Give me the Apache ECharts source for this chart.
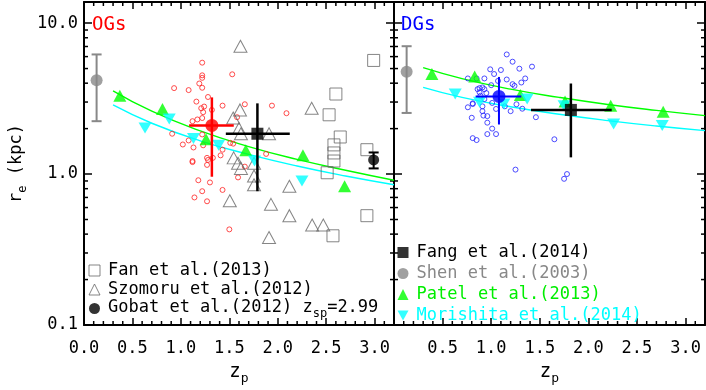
<!DOCTYPE html>
<html><head><meta charset="utf-8">
<script src="https://cdn.jsdelivr.net/npm/echarts@6/dist/echarts.min.js"></script>
<style>html,body{margin:0;padding:0;background:#fff}#c{width:706px;height:390px}</style>
</head><body><div id="c"></div>
<script>
// ---------- axis ticks ----------
const xTickLabels = ['0.0','0.5','1.0','1.5','2.0','2.5','3.0'];
const yTickLabels = ['0.1','1.0','10.0'];
const xMinorTickValues = [0.1,0.2,0.3,0.4,0.6,0.7,0.8,0.9,1.1,1.2,1.3,1.4,1.6,1.7,1.8,1.9,2.1,2.2,2.3,2.4,2.6,2.7,2.8,2.9,3.1];
const yMinorTickValues = [0.2,0.3,0.4,0.5,0.6,0.7,0.8,0.9,2,3,4,5,6,7,8,9];

// ---------- OGs panel ----------
const ogSampleZ = [1.22,1.22,1.22,1.53,0.93,1.08,1.19,1.22,1.16,1.28,1.21,1.24,1.23,1.43,1.66,1.94,2.09,1.12,1.17,1.22,1.58,0.91,1.22,1.02,1.13,1.43,1.41,1.51,1.54,1.27,1.28,1.12,1.12,1.27,1.88,1.18,1.30,1.59,1.43,1.22,1.14,1.08,1.23,1.33,1.27,1.50,1.32,1.66];
const ogSampleR = [5.47,4.51,4.34,4.58,3.71,3.60,3.98,3.73,3.02,3.24,2.73,2.80,2.57,2.84,2.90,2.84,2.53,2.24,2.30,2.35,2.38,1.85,1.83,1.57,1.50,1.45,1.33,1.61,1.59,1.28,1.24,1.22,1.20,1.15,1.36,0.91,0.88,0.95,0.785,0.77,0.70,1.67,1.55,1.28,0.66,0.43,2.66,1.12];
const fanZ = [2.99,2.60,2.53,2.645,2.58,2.58,2.58,2.51,2.92,2.92,2.57];
const fanR = [5.66,3.39,2.47,1.76,1.56,1.38,1.22,1.02,1.45,0.53,0.39];
const szomoruZ = [1.615,1.61,1.54,1.60,1.62,1.91,2.35,1.545,1.59,1.62,1.755,1.755,1.755,2.12,1.505,1.93,2.12,2.355,2.47,1.91];
const szomoruR = [7.03,2.66,2.35,2.0,1.85,1.85,2.73,1.28,1.18,1.09,1.18,0.97,0.85,0.83,0.665,0.63,0.53,0.46,0.46,0.38];
const patelOGZ = [0.37,0.81,1.26,1.67,2.26,2.69];
const patelOGR = [3.30,2.70,1.70,1.44,1.33,0.83];
const morishitaOGZ = [0.63,0.88,1.13,1.39,1.76,2.25];
const morishitaOGR = [2.02,2.32,1.72,1.55,1.22,0.90];
const fitZ = [0.3,0.7,1.2,1.7,2.2,2.7,3.2];
const patelFitOG = [3.56,2.61,1.93,1.52,1.25,1.06,0.91];
const morishitaFitOG = [2.87,2.17,1.66,1.35,1.13,0.97,0.85];
const ogMedian = [1.32,2.10];
const ogMedianZRange = [1.085,1.546];
const ogMedianRRange = [0.96,3.22];
const fangOG = [1.79,1.85];
const fangOGZRange = [1.464,2.124];
const fangOGRRange = [0.77,2.94];
const gobat = [2.99,1.24];
const gobatRRange = [1.09,1.39];
const shenOG = [0.13,4.19];
const shenOGRRange = [2.24,6.2];

// ---------- DGs panel ----------
const dgSampleZ = [1.16,1.22,1.29,1.42,0.99,1.10,1.03,0.76,0.85,0.93,1.16,1.22,1.35,1.31,0.88,0.91,0.86,0.93,1.00,1.07,0.88,0.95,0.89,0.81,0.76,0.91,1.05,1.14,1.26,1.32,1.20,0.91,0.96,0.80,0.92,0.96,1.01,0.96,1.05,0.81,0.85,1.46,1.65,1.25,1.75,1.78,1.01,0.93,1.24,0.81];
const dgSampleR = [6.20,5.55,4.99,5.15,4.94,4.89,4.60,4.30,4.30,4.30,4.23,3.94,4.30,4.04,3.71,3.75,3.65,3.65,3.88,4.14,3.48,3.44,3.30,2.91,2.77,2.81,2.70,2.81,2.90,2.71,2.61,2.61,2.42,2.36,2.44,2.19,2.00,1.84,1.84,1.73,1.68,2.38,1.70,1.07,0.93,1.00,2.96,3.14,3.84,2.94];
const patelDGZ = [0.39,0.83,1.30,1.76,2.23,2.77];
const patelDGR = [4.6,4.43,3.34,3.02,2.84,2.59];
const morishitaDGZ = [0.63,0.88,1.13,1.37,1.75,2.26,2.76];
const morishitaDGR = [3.39,2.99,2.91,3.14,2.84,2.15,2.10];
const patelFitDG = [5.07,4.29,3.65,3.22,2.89,2.64,2.44];
const morishitaFitDG = [3.75,3.22,2.79,2.49,2.26,2.08,1.94];
const dgMedian = [1.08,3.27];
const dgMedianZRange = [0.84,1.31];
const dgMedianRRange = [2.13,4.40];
const fangDG = [1.82,2.66];
const fangDGZRange = [1.41,2.24];
const fangDGRRange = [1.29,3.98];
const shenDG = [0.13,4.77];
const shenDGRRange = [2.54,7.03];

// ---------- build ----------
const FONT = 'DejaVu Sans Mono';
const X_MIN = 0, X_MAX = 3.2, Y_MIN = 0.1, Y_MAX = 13.8;
const DOWN_TRI = 'path://M0,0L10,0L5,9Z';
const pairs = (a, b) => a.map((v, i) => [v, b[i]]);

function xAxisDef(grid, position, labels, hideMin) {
  return {
    type: 'value', gridIndex: grid, position: position, min: X_MIN, max: X_MAX, interval: 0.5,
    axisLine: {show: true, onZero: false, lineStyle: {color: '#000', width: 2}},
    axisTick: {show: true, inside: true, length: 7, lineStyle: {color: '#000', width: 1.5}},
    splitLine: {show: false},
    axisLabel: {show: labels, margin: 15, fontSize: 17, fontFamily: FONT, color: '#000',
      showMinLabel: !hideMin, showMaxLabel: false,
      formatter: v => { const s = Number(v).toFixed(1); return xTickLabels.indexOf(s) >= 0 ? s : ''; }},
    name: labels ? '{a|z}{s|p}' : '', nameLocation: 'middle', nameGap: 38,
    nameTextStyle: {rich: {
      a: {fontSize: 19, fontFamily: FONT, color: '#000', verticalAlign: 'top', lineHeight: 19},
      s: {fontSize: 13, fontFamily: FONT, color: '#000', verticalAlign: 'top', lineHeight: 13, padding: [9,0,0,0]}
    }}
  };
}
function yAxisDef(grid, position, labels, named) {
  return {
    type: 'log', logBase: 10, gridIndex: grid, position: position, min: Y_MIN, max: Y_MAX,
    axisLine: {show: true, onZero: false, lineStyle: {color: '#000', width: 2}},
    axisTick: {show: true, inside: true, length: 8, lineStyle: {color: '#000', width: 1.5}},
    splitLine: {show: false},
    axisLabel: {show: labels, margin: 6, fontSize: 17, fontFamily: FONT, color: '#000', showMaxLabel: false,
      formatter: v => { const s = Number(v).toFixed(1); return yTickLabels.indexOf(s) >= 0 ? s : ''; }},
    name: named ? '{a|r}{s|e}{a| (kpc)}' : '', nameLocation: 'middle', nameRotate: 90, nameGap: 58,
    nameTextStyle: {rich: {
      a: {fontSize: 17, fontFamily: FONT, color: '#000', verticalAlign: 'top', lineHeight: 18},
      s: {fontSize: 12, fontFamily: FONT, color: '#000', verticalAlign: 'top', lineHeight: 12, padding: [9,0,0,0]}
    }}
  };
}

function minorTicks(ai) {
  const yData = yMinorTickValues.map(v => [X_MIN, v, 0]);
  const xData = xMinorTickValues.map(v => [v, 1, 1]);
  return {
    type: 'custom', xAxisIndex: ai, yAxisIndex: ai, silent: true, z: 1, clip: false,
    data: yData.concat(xData),
    renderItem: function (params, api) {
      const kind = api.value(2);
      const st = {stroke: '#000', lineWidth: 1.5};
      if (kind === 0) {
        const L = api.coord([X_MIN, api.value(1)]);
        const R = api.coord([X_MAX, api.value(1)]);
        return {type: 'group', children: [
          {type: 'line', shape: {x1: L[0], y1: L[1], x2: L[0] + 4, y2: L[1]}, style: st},
          {type: 'line', shape: {x1: R[0] - 4, y1: R[1], x2: R[0], y2: R[1]}, style: st}
        ]};
      }
      const B = api.coord([api.value(0), Y_MIN]);
      const T = api.coord([api.value(0), Y_MAX]);
      return {type: 'group', children: [
        {type: 'line', shape: {x1: B[0], y1: B[1], x2: B[0], y2: B[1] - 4}, style: st},
        {type: 'line', shape: {x1: T[0], y1: T[1], x2: T[0], y2: T[1] + 4}, style: st}
      ]};
    }
  };
}

function errorBar(name, ai, pt, zr, rr, color, width, cap) {
  return {
    type: 'custom', name: name, xAxisIndex: ai, yAxisIndex: ai, z: 4, silent: true,
    data: [[pt[0], pt[1], zr ? zr[0] : pt[0], zr ? zr[1] : pt[0], rr[0], rr[1]]],
    renderItem: function (params, api) {
      const z = api.value(0), r = api.value(1);
      const a = api.coord([api.value(2), r]), b = api.coord([api.value(3), r]);
      const lo = api.coord([z, api.value(4)]), hi = api.coord([z, api.value(5)]);
      const st = {stroke: color, lineWidth: width};
      const ch = [];
      if (api.value(3) > api.value(2)) ch.push({type: 'line', shape: {x1: a[0], y1: a[1], x2: b[0], y2: b[1]}, style: st});
      ch.push({type: 'line', shape: {x1: lo[0], y1: lo[1], x2: hi[0], y2: hi[1]}, style: st});
      if (cap) {
        ch.push({type: 'line', shape: {x1: lo[0] - cap, y1: lo[1], x2: lo[0] + cap, y2: lo[1]}, style: st});
        ch.push({type: 'line', shape: {x1: hi[0] - cap, y1: hi[1], x2: hi[0] + cap, y2: hi[1]}, style: st});
      }
      return {type: 'group', children: ch};
    }
  };
}
function scatter(name, ai, data, symbol, size, style, z) {
  return {type: 'scatter', name: name, xAxisIndex: ai, yAxisIndex: ai, data: data, symbol: symbol,
    symbolSize: size, itemStyle: style, z: z || 3, silent: true};
}
function fitLine(name, ai, ys, color) {
  return {type: 'line', name: name, xAxisIndex: ai, yAxisIndex: ai, data: pairs(fitZ, ys), smooth: true,
    showSymbol: false, symbol: 'none', lineStyle: {color: color, width: 1.4}, z: 2, silent: true};
}
const openGray = {color: 'rgba(0,0,0,0)', borderColor: '#666', borderWidth: 1};

const series = [
  minorTicks(0), minorTicks(2),
  // OGs panel
  scatter('OGs sample', 0, pairs(ogSampleZ, ogSampleR), 'circle', 5, {color: 'rgba(0,0,0,0)', borderColor: '#ff2020', borderWidth: 1}, 2),
  scatter('Fan et al.(2013)', 0, pairs(fanZ, fanR), 'rect', 12, openGray),
  scatter('Szomoru et al.(2012)', 0, pairs(szomoruZ, szomoruR), 'triangle', [13,12], openGray),
  scatter('Gobat et al.(2012)', 0, [gobat], 'circle', 11, {color: '#000'}, 5),
  scatter('Patel et al.(2013)', 0, pairs(patelOGZ, patelOGR), 'triangle', [13,12], {color: '#00ff00'}),
  scatter('Morishita et al.(2014)', 0, pairs(morishitaOGZ, morishitaOGR), DOWN_TRI, [13,11], {color: '#00ffff'}),
  scatter('Shen et al.(2003)', 0, [shenOG], 'circle', 12, {color: '#888'}, 5),
  scatter('Fang et al.(2014)', 0, [fangOG], 'rect', 12, {color: '#000'}, 5),
  scatter('OGs median', 0, [ogMedian], 'circle', 13, {color: '#ff0000'}, 5),
  fitLine('Patel et al.(2013)', 0, patelFitOG, '#00ff00'),
  fitLine('Morishita et al.(2014)', 0, morishitaFitOG, '#00ffff'),
  errorBar('Shen et al.(2003)', 0, shenOG, null, shenOGRRange, '#888', 2, 5),
  errorBar('OGs median', 0, ogMedian, ogMedianZRange, ogMedianRRange, '#ff0000', 2.5, 0),
  errorBar('Fang et al.(2014)', 0, fangOG, fangOGZRange, fangOGRRange, '#000', 2.5, 0),
  errorBar('Gobat et al.(2012)', 0, gobat, null, gobatRRange, '#000', 2, 5),
  // DGs panel
  scatter('DGs sample', 2, pairs(dgSampleZ, dgSampleR), 'circle', 5, {color: 'rgba(0,0,0,0)', borderColor: '#2020ff', borderWidth: 1}, 2),
  scatter('Patel et al.(2013)', 2, pairs(patelDGZ, patelDGR), 'triangle', [13,12], {color: '#00ff00'}),
  scatter('Morishita et al.(2014)', 2, pairs(morishitaDGZ, morishitaDGR), DOWN_TRI, [13,11], {color: '#00ffff'}),
  scatter('Shen et al.(2003)', 2, [shenDG], 'circle', 12, {color: '#888'}, 5),
  scatter('Fang et al.(2014)', 2, [fangDG], 'rect', 12, {color: '#000'}, 5),
  scatter('DGs median', 2, [dgMedian], 'circle', 13, {color: '#0000ff'}, 5),
  fitLine('Patel et al.(2013)', 2, patelFitDG, '#00ff00'),
  fitLine('Morishita et al.(2014)', 2, morishitaFitDG, '#00ffff'),
  errorBar('Shen et al.(2003)', 2, shenDG, null, shenDGRRange, '#888', 2, 5),
  errorBar('DGs median', 2, dgMedian, dgMedianZRange, dgMedianRRange, '#0000ff', 2, 0),
  errorBar('Fang et al.(2014)', 2, fangDG, fangDGZRange, fangDGRRange, '#000', 2.5, 0)
];

const legendText = {fontSize: 17, fontFamily: FONT, color: '#000', lineHeight: 19, padding: [0, 0, 0, 3]};
const option = {
  animation: false,
  textStyle: {fontFamily: FONT},
  title: [
    {text: 'OGs', left: 92, top: 16, padding: 0, textStyle: {color: '#ff0000', fontSize: 19, fontWeight: 'normal', fontFamily: FONT}},
    {text: 'DGs', left: 401, top: 16, padding: 0, textStyle: {color: '#0000ff', fontSize: 19, fontWeight: 'normal', fontFamily: FONT}}
  ],
  grid: [
    {left: 84, top: 2, width: 310, height: 326},
    {left: 394, top: 2, width: 311, height: 326}
  ],
  xAxis: [xAxisDef(0, 'bottom', true, false), xAxisDef(0, 'top', false, false),
          xAxisDef(1, 'bottom', true, true), xAxisDef(1, 'top', false, false)],
  yAxis: [yAxisDef(0, 'left', true, true), yAxisDef(0, 'right', false, false),
          yAxisDef(1, 'left', false, false), yAxisDef(1, 'right', false, false)],
  legend: [
    {orient: 'vertical', left: 88.5, top: 261, padding: 0, itemGap: 0, itemWidth: 11, itemHeight: 11,
     selectedMode: false, textStyle: Object.assign({}, legendText, {rich: {
       i: {fontSize: 17, fontFamily: FONT, color: '#000', lineHeight: 19, verticalAlign: 'top'},
       s: {fontSize: 12, fontFamily: FONT, color: '#000', lineHeight: 12, verticalAlign: 'top', padding: [9,0,0,0]}
     }}),
     formatter: n => n === 'Gobat et al.(2012)' ? '{i|' + n + ' z}{s|sp}{i|=2.99}' : n,
     data: [
       {name: 'Fan et al.(2013)', icon: 'rect', itemStyle: openGray},
       {name: 'Szomoru et al.(2012)', icon: 'triangle', itemStyle: openGray},
       {name: 'Gobat et al.(2012)', icon: 'circle', itemStyle: {color: '#000'}}
     ]},
    {orient: 'vertical', left: 397.5, top: 243, padding: 0, itemGap: 2, itemWidth: 11, itemHeight: 11,
     selectedMode: false, textStyle: legendText,
     data: [
       {name: 'Fang et al.(2014)', icon: 'rect', itemStyle: {color: '#000'}, textStyle: {color: '#000'}},
       {name: 'Shen et al.(2003)', icon: 'circle', itemStyle: {color: '#888'}, textStyle: {color: '#888'}},
       {name: 'Patel et al.(2013)', icon: 'triangle', itemStyle: {color: '#00ff00'}, textStyle: {color: '#00ee00'}},
       {name: 'Morishita et al.(2014)', icon: DOWN_TRI, itemStyle: {color: '#00ffff'}, textStyle: {color: '#00ffff'}}
     ]}
  ],
  series: series
};
const chart = echarts.init(document.getElementById('c'), null, {renderer: 'canvas'});
chart.setOption(option);
</script>
</body></html>
